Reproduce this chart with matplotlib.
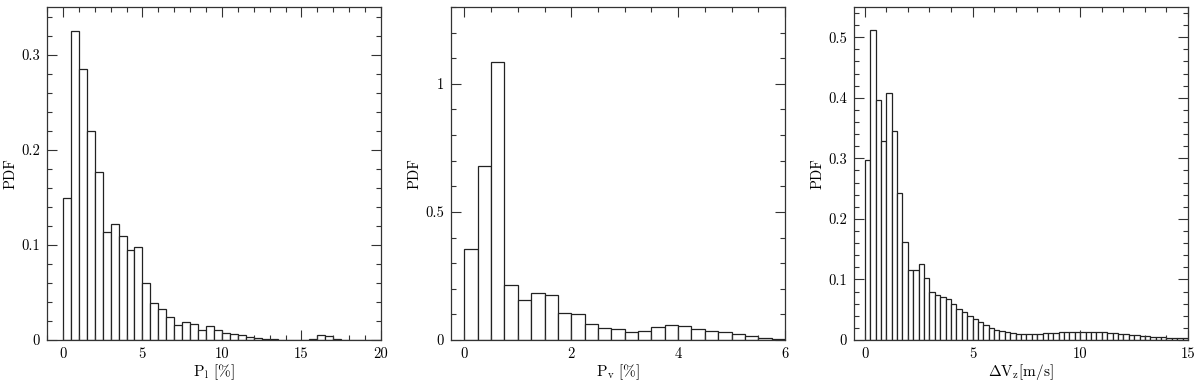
import numpy as np
import matplotlib
matplotlib.use("Agg")
import matplotlib.pyplot as plt
from matplotlib.ticker import MultipleLocator, FuncFormatter

plt.rcParams["font.family"] = ["cmr10", "DejaVu Serif"]
plt.rcParams["mathtext.fontset"] = "cm"
plt.rcParams["axes.formatter.use_mathtext"] = True

# panel 1: P_l, bins of 0.5 from 0 to 20
pl_width = 0.5
pl_pdf = [0.149, 0.325, 0.285, 0.220, 0.177, 0.113, 0.122, 0.109, 0.095, 0.098,
          0.060, 0.039, 0.033, 0.024, 0.016, 0.019, 0.017, 0.011, 0.015, 0.0105,
          0.0073, 0.0063, 0.0052, 0.0035, 0.0017, 0.001, 0.0007, 0.0005, 0.0005, 0.0005,
          0.0005, 0.0014, 0.0056, 0.0045, 0.001, 0.0005, 0.0005, 0.0005, 0.0005, 0.0005]

# panel 2: P_v, bins of 0.25 from 0 to 6
pv_width = 0.25
pv_pdf = [0.357, 0.679, 1.084, 0.213, 0.158, 0.182, 0.175, 0.104, 0.101, 0.061,
          0.045, 0.043, 0.032, 0.035, 0.051, 0.057, 0.055, 0.043, 0.035, 0.030,
          0.022, 0.014, 0.008, 0.003]

# panel 3: dV_z, bins of 0.25 from 0 to 15
dv_width = 0.25
dv_pdf = [0.298, 0.512, 0.397, 0.328, 0.408, 0.345, 0.242, 0.162,
          0.115, 0.116, 0.125, 0.103, 0.080, 0.074, 0.071, 0.067,
          0.059, 0.052, 0.046, 0.039, 0.034, 0.029, 0.024, 0.020,
          0.0165, 0.0148, 0.0126, 0.011, 0.0104, 0.0099, 0.0099, 0.0099,
          0.0104, 0.011, 0.0115, 0.012, 0.0126, 0.0126, 0.013, 0.013,
          0.013, 0.013, 0.013, 0.0126, 0.0126, 0.012, 0.0115, 0.0104,
          0.0099, 0.0088, 0.0077, 0.0066, 0.006, 0.0055, 0.005, 0.0044,
          0.0038, 0.0033, 0.0033, 0.0027]

panels = [
    (pl_pdf, pl_width, (-1, 20), (0, 0.35), 5, 1, 0.1, 0.02, r"P$_{\rm l}$ [%]"),
    (pv_pdf, pv_width, (-0.25, 6), (0, 1.3), 2, 0.5, 0.5, 0.1, r"P$_{\rm v}$ [%]"),
    (dv_pdf, dv_width, (-0.5, 15), (0, 0.55), 5, 1, 0.1, 0.02, r"$\Delta$V$_{\rm z}$[m/s]"),
]
lefts = [47, 451, 854]

fmt = FuncFormatter(lambda v, pos: "%g" % round(v, 6))

fig = plt.figure(figsize=(12, 3.82), dpi=100)
for (pdf, w, xl, yl, xmaj, xmin, ymaj, ymin, xlabel), left in zip(panels, lefts):
    ax = fig.add_axes([left / 1200, 42 / 382, 334 / 1200, 333 / 382])
    edges = np.arange(len(pdf)) * w
    ax.bar(edges, pdf, width=w, align="edge", facecolor="white",
           edgecolor="#222222", linewidth=0.9)
    ax.set_xlim(*xl)
    ax.set_ylim(*yl)
    ax.xaxis.set_major_locator(MultipleLocator(xmaj))
    ax.xaxis.set_minor_locator(MultipleLocator(xmin))
    ax.yaxis.set_major_locator(MultipleLocator(ymaj))
    ax.yaxis.set_minor_locator(MultipleLocator(ymin))
    ax.xaxis.set_major_formatter(fmt)
    ax.yaxis.set_major_formatter(fmt)
    ax.tick_params(which="both", direction="in", top=True, right=True,
                   labelsize=10.5, color="#333333")
    ax.tick_params(which="major", length=7, width=0.8, pad=5)
    ax.tick_params(which="minor", length=3.5, width=0.8)
    for s in ax.spines.values():
        s.set_linewidth(0.9)
        s.set_color("#333333")
    ax.set_xlabel(xlabel, fontsize=11, labelpad=1)
    ax.set_ylabel("PDF", fontsize=10.5, labelpad=3)

fig.savefig("out.png", dpi=100)
